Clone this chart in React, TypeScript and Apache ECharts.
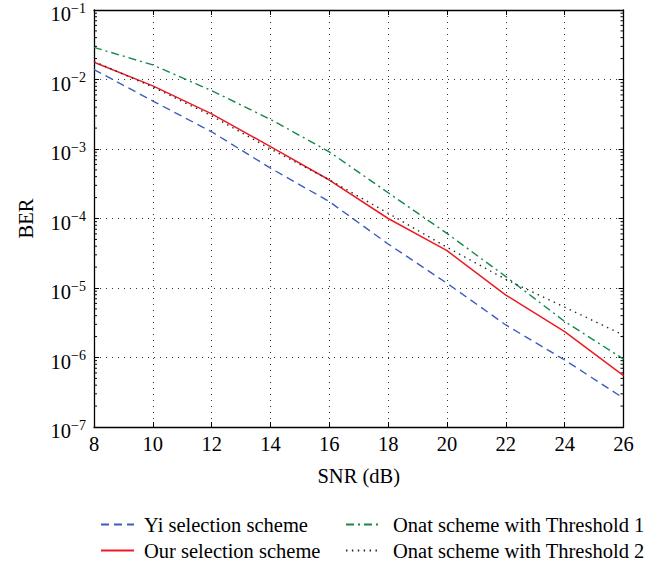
import React, { useEffect, useRef } from "react";
import * as echarts from "echarts";

const snr = [8, 10, 12, 14, 16, 18, 20, 22, 24, 26];
const berYi = [0.0139, 0.0049, 0.00177, 5.3e-4, 1.75e-4, 4.3e-5, 1.17e-5, 2.94e-6, 9.2e-7, 2.6e-7];
const berOur = [0.0177, 0.0081, 0.0032, 1.08e-3, 3.58e-4, 1.0e-4, 3.44e-5, 7.9e-6, 2.36e-6, 5.5e-7];
const berT1 = [0.029, 0.0162, 0.0069, 2.67e-3, 9.1e-4, 2.35e-4, 6.1e-5, 1.46e-5, 3.3e-6, 9.5e-7];
const berT2 = [0.0182, 0.0078, 0.003, 1.0e-3, 3.6e-4, 1.19e-4, 3.85e-5, 1.33e-5, 5.3e-6, 2.1e-6];

const seriesNames = [
  "Yi selection scheme",
  "Our selection scheme",
  "Onat scheme with Threshold 1",
  "Onat scheme with Threshold 2",
];

const FONT = "Liberation Serif";
const FS = 20.5;

export default function App() {
  const ref = useRef<HTMLDivElement>(null);
  useEffect(() => {
    const chart = echarts.init(ref.current!, null, { renderer: "svg" });
    const pairs = (ys: number[]) => snr.map((x, i) => [x, ys[i]]);
    const minor: number[][] = [];
    for (let e = -7; e < -1; e++) {
      for (let k = 2; k <= 9; k++) minor.push([8, k * Math.pow(10, e)]);
    }
    const axisLine = { show: true, lineStyle: { color: "#000", width: 1.3 } };
    const tick = { show: true, inside: true, length: 5, lineStyle: { color: "#000", width: 1 } };
    const grid = { show: true, lineStyle: { color: "#333", type: [1, 5], width: 1 } };
    const legendPos = [
      { left: 95, top: 509 },
      { left: 95, top: 535 },
      { left: 340, top: 509 },
      { left: 340, top: 535 },
    ];
    const legends = seriesNames.map((n, i) => ({
      orient: "horizontal",
      left: legendPos[i].left,
      top: legendPos[i].top,
      itemWidth: 33,
      itemHeight: 14,
      data: [n],
      itemStyle: { opacity: 0 },
      textStyle: { fontSize: FS, fontFamily: FONT, color: "#000", padding: [0, 0, 0, i < 2 ? 5 : 9] },
    }));
    chart.setOption({
      animation: false,
      textStyle: { fontFamily: FONT, color: "#000" },
      grid: { left: 94, right: 42.5, top: 10, bottom: 135 },
      xAxis: [
        {
          type: "value",
          min: 8,
          max: 26,
          interval: 2,
          name: "SNR (dB)",
          nameLocation: "middle",
          nameGap: 38,
          nameTextStyle: { fontSize: FS, fontFamily: FONT, color: "#000" },
          axisLine,
          axisTick: tick,
          splitLine: grid,
          axisLabel: { fontSize: FS, fontFamily: FONT, color: "#000", margin: 6 },
        },
        {
          type: "value",
          position: "top",
          min: 8,
          max: 26,
          interval: 2,
          axisLine,
          axisTick: tick,
          splitLine: { show: false },
          axisLabel: { show: false },
        },
      ],
      yAxis: [
        {
          type: "log",
          logBase: 10,
          min: 1e-7,
          max: 1e-1,
          name: "BER",
          nameLocation: "middle",
          nameGap: 58,
          nameRotate: 90,
          nameTextStyle: { fontSize: FS, fontFamily: FONT, color: "#000" },
          axisLine,
          axisTick: tick,
          splitLine: grid,
          axisLabel: {
            margin: 8,
            color: "#000",
            formatter: (v: number) => {
              const e = Math.round(Math.log10(v));
              return `{b|10}{s|\u2212${-e}}`;
            },
            rich: {
              b: { fontSize: FS, fontFamily: FONT, color: "#000", padding: [8, 0, 0, 0] },
              s: { fontSize: 14, fontFamily: FONT, color: "#000", padding: [0, 0, 4, 0] },
            },
          },
        },
        {
          type: "log",
          logBase: 10,
          min: 1e-7,
          max: 1e-1,
          position: "right",
          axisLine,
          axisTick: tick,
          splitLine: { show: false },
          axisLabel: { show: false },
        },
      ],
      legend: legends,
      series: [
        {
          name: seriesNames[0],
          type: "line",
          data: pairs(berYi),
          symbol: "none",
          lineStyle: { color: "#3c5cbf", width: 1.4, type: [8, 5] },
          itemStyle: { color: "#3c5cbf" },
        },
        {
          name: seriesNames[1],
          type: "line",
          data: pairs(berOur),
          symbol: "none",
          lineStyle: { color: "#ec1c24", width: 1.5, type: "solid" },
          itemStyle: { color: "#ec1c24" },
        },
        {
          name: seriesNames[2],
          type: "line",
          data: pairs(berT1),
          symbol: "none",
          lineStyle: { color: "#16884a", width: 1.4, type: [8, 4, 2, 4] },
          itemStyle: { color: "#16884a" },
        },
        {
          name: seriesNames[3],
          type: "line",
          data: pairs(berT2),
          symbol: "none",
          lineStyle: { color: "#222", width: 1.4, type: [1.4, 4.5] },
          itemStyle: { color: "#222" },
        },
        {
          type: "custom",
          silent: true,
          clip: false,
          data: minor,
          renderItem: (params: any, api: any) => {
            const v = api.value(1);
            const l = api.coord([8, v]);
            const r = api.coord([26, v]);
            return {
              type: "group",
              children: [
                { type: "line", shape: { x1: l[0], y1: l[1], x2: l[0] + 3, y2: l[1] }, style: { stroke: "#000", lineWidth: 1 } },
                { type: "line", shape: { x1: r[0], y1: r[1], x2: r[0] - 3, y2: r[1] }, style: { stroke: "#000", lineWidth: 1 } },
              ],
            };
          },
        },
      ],
    });
    return () => chart.dispose();
  }, []);
  return (
    <div
      ref={ref}
      style={{ position: "fixed", left: 0, top: 0, width: 666, height: 562, background: "#fff" }}
    />
  );
}
